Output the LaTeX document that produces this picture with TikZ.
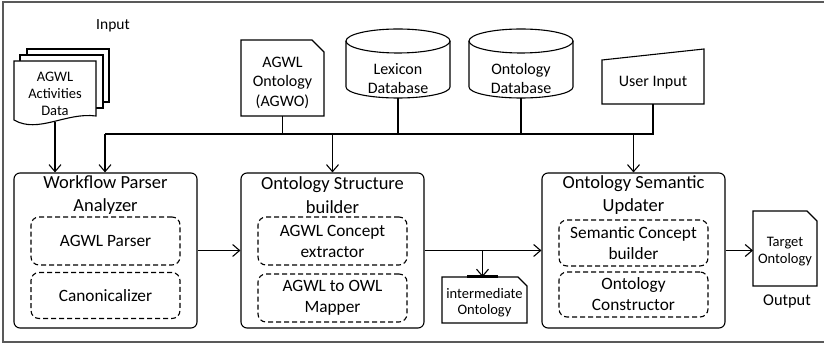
\documentclass[tikz,border=0pt]{standalone}
\usepackage{fontspec}
\setmainfont{Carlito}
\usetikzlibrary{arrows.meta,calc}
\begin{document}
\begin{tikzpicture}[x=1pt,y=-1pt,line width=1.1pt,
  arr/.style={-{Straight Barb[length=7pt,width=12pt,line width=1.1pt]}},
  mainbox/.style={draw,rounded corners=6pt,inner sep=0pt,minimum width=183pt,minimum height=155pt},
  subbox/.style={draw,dash pattern=on 5pt off 3pt,rounded corners=8pt,inner sep=0pt,
    minimum width=149pt,align=center,font=\fontsize{17.3}{21}\selectfont},
  titletxt/.style={align=center,inner sep=0pt,font=\fontsize{18.5}{23.5}\selectfont},
  toptxt/.style={align=center,inner sep=0pt,font=\fontsize{16}{19.5}\selectfont},
  smalltxt/.style={align=center,inner sep=0pt,font=\fontsize{14.5}{16.5}\selectfont},
  holder/.style={inner sep=0pt,outer sep=0pt}]

\useasboundingbox (0,0) rectangle (824,344);

% outer frame (open on the right)
\draw[black!65,line width=1.5pt] (830,2) -- (3,2) -- (3,342) -- (830,342);

% ---------- input: stacked documents ----------
\node at (113,26) {\fontsize{15.5}{18}\selectfont Input};
\draw[fill=white] (27,102) -- (27,49) -- (109,49) -- (109,102) -- cycle;
\draw[fill=white] (20,108) -- (20,55) -- (103,55) -- (103,108) -- cycle;
\node[holder,minimum width=82pt,minimum height=61pt] (act) at (55,91.5) {};
\draw[fill=white] (14,120) -- (14,61) -- (96,61) -- (96,116)
  .. controls (66,112) and (38,134) .. (14,120) -- cycle;
\node[smalltxt,font=\fontsize{14.5}{17}\selectfont] at (55,94) {AGWL\\Activities\\Data};

% ---------- AGWL ontology document ----------
\node[holder,minimum width=83pt,minimum height=76pt] (agwo) at (282.5,78) {};
\draw (agwo.south west) -- (agwo.north west) -- ([xshift=-12pt]agwo.north east)
  -- ([yshift=-12pt]agwo.north east) -- (agwo.south east) -- cycle;
\node[toptxt] at (282.5,82.5) {AGWL\\Ontology\\(AGWO)};

% ---------- databases ----------
\node[holder,minimum width=104pt,minimum height=69pt] (lex) at (398,63.5) {};
\node[holder,minimum width=104pt,minimum height=69pt] (odb) at (521,63.5) {};
\foreach \c in {lex,odb}{
  \draw ([yshift=-12pt]\c.north west) -- ++(0,46)
    arc[start angle=180,end angle=360,x radius=52pt,y radius=11pt]
    -- ++(0,-46);
  \draw ($(\c.north)+(0,12)$) ellipse[x radius=52pt,y radius=12pt];
}
\node[toptxt,font=\fontsize{16}{19}\selectfont] at (398,78.5) {Lexicon\\Database};
\node[toptxt,font=\fontsize{16}{19}\selectfont] at (521,78.5) {Ontology\\Database};

% ---------- user input (manual input shape) ----------
\node[holder,minimum width=102pt,minimum height=55pt] (ui) at (653,76.5) {};
\draw (ui.south west) -- ([yshift=-11pt]ui.north west) -- (ui.north east)
  -- (ui.south east) -- cycle;
\node[toptxt] at (653,83) {User Input};

% ---------- processing blocks ----------
\node[mainbox] (wpa) at (105.5,250.5) {};
\node[mainbox] (osb) at (332.5,250.5) {};
\node[mainbox] (osu) at (633.5,250.5) {};

\node[titletxt] at (105.5,195) {Workflow Parser\\Analyzer};
\node[titletxt] at (332.5,195) {Ontology Structure\\builder};
\node[titletxt] at (633.5,195) {Ontology Semantic\\Updater};

\node[subbox,minimum height=48pt] (p1) at (105.5,241) {AGWL Parser};
\node[subbox,minimum height=46pt] (p2) at (105.5,295.5) {Canonicalizer};
\node[subbox,minimum height=48pt] (s1) at (332.5,241) {AGWL Concept\\extractor};
\node[subbox,minimum height=48pt] (s2) at (332.5,298) {AGWL to OWL\\Mapper};
\node[subbox,minimum height=46pt] (u1) at (633.5,243) {Semantic Concept\\builder};
\node[subbox,minimum height=45pt] (u2) at (633.5,294.5) {Ontology\\Constructor};

% ---------- intermediate ontology ----------
\node[holder,minimum width=85pt,minimum height=46pt] (inter) at (484.5,300) {};
\draw (inter.south west) -- (inter.north west) -- ([xshift=-9pt]inter.north east)
  -- ([yshift=-9pt]inter.north east) -- (inter.south east) -- cycle;
\draw[line width=3pt] (467,277) -- (498,277);
\node[smalltxt,font=\fontsize{14.5}{16}\selectfont] at (484.5,303) {intermediate\\Ontology};

% ---------- target ontology ----------
\node[holder,minimum width=64pt,minimum height=75pt] (tgt) at (785,248.5) {};
\draw (tgt.south west) -- (tgt.north west) -- ([xshift=-10pt]tgt.north east)
  -- ([yshift=-10pt]tgt.north east) -- (tgt.south east) -- cycle;
\node[smalltxt] at (785,251.5) {Target\\Ontology};
\node at (787,302) {\fontsize{16.4}{19}\selectfont Output};

% ---------- connectors ----------
\coordinate (busL) at (105,134);
\draw (busL) -- (ui.south |- busL) -- (ui.south);
\draw (agwo.south) -- (agwo.south |- busL);
\draw (lex.south) -- (lex.south |- busL);
\draw (odb.south) -- (odb.south |- busL);
\draw[arr] (busL) -- (busL |- wpa.north);
\draw[arr] (osb.north |- busL) -- (osb.north);
\draw[arr] (osu.north |- busL) -- (osu.north);
\draw[arr] (act.south) -- (act.south |- wpa.north);

\draw[arr] (wpa.east) -- (osb.west);
\coordinate (split) at (482.5,250.5);
\draw[arr] (osb.east) -- (osu.west);
\draw[arr] (split) -- (split |- inter.north);
\draw[arr] (osu.east) -- (osu.east -| tgt.west);
\end{tikzpicture}
\end{document}
